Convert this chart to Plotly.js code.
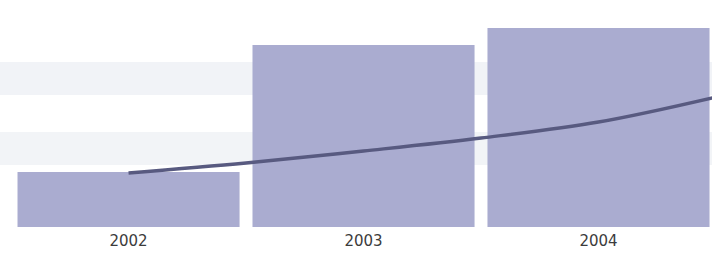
<!DOCTYPE html>
<html><head><meta charset="utf-8">
<script src="https://cdn.plot.ly/plotly-3.0.1.min.js"></script>
<style>html,body{margin:0;padding:0;background:#fff}#chart{width:712px;height:255px}</style>
</head><body><div id="chart"></div>
<script>
const years = [2002, 2003, 2004];
const yearLabels = ['2002', '2003', '2004'];
const barValues = [55, 182, 199];
const lineX = [2002, 2002.5, 2003, 2003.5, 2004, 2004.5];
const lineValues = [54, 64, 76, 89, 105, 130];

const data = [
  {type: 'bar', x: years, y: barValues, width: 0.945,
   marker: {color: 'rgb(170,172,208)'}, hoverinfo: 'none'},
  {type: 'scatter', mode: 'lines', x: lineX, y: lineValues,
   line: {color: 'rgb(88,90,128)', width: 3.5, shape: 'spline'}, hoverinfo: 'none'}
];
const layout = {
  width: 712, height: 255,
  margin: {l: 0, r: 0, t: 0, b: 28},
  paper_bgcolor: '#ffffff', plot_bgcolor: '#ffffff',
  showlegend: false,
  xaxis: {range: [2001.453, 2004.483], tickvals: years, ticktext: yearLabels,
          showgrid: false, zeroline: false, showline: false, ticks: '',
          ticklabelstandoff: 3,
          tickfont: {family: 'DejaVu Sans', size: 15, color: '#3c3c3c'}},
  yaxis: {range: [0, 227], visible: false, showgrid: false, zeroline: false},
  shapes: [
    {type: 'rect', xref: 'paper', yref: 'y', x0: 0, x1: 1, y0: 62, y1: 95,
     fillcolor: 'rgba(232,235,241,0.55)', line: {width: 0}, layer: 'below'},
    {type: 'rect', xref: 'paper', yref: 'y', x0: 0, x1: 1, y0: 132, y1: 165,
     fillcolor: 'rgba(232,235,241,0.6)', line: {width: 0}, layer: 'below'}
  ]
};
Plotly.newPlot('chart', data, layout, {staticPlot: true, displayModeBar: false});
</script></body></html>
